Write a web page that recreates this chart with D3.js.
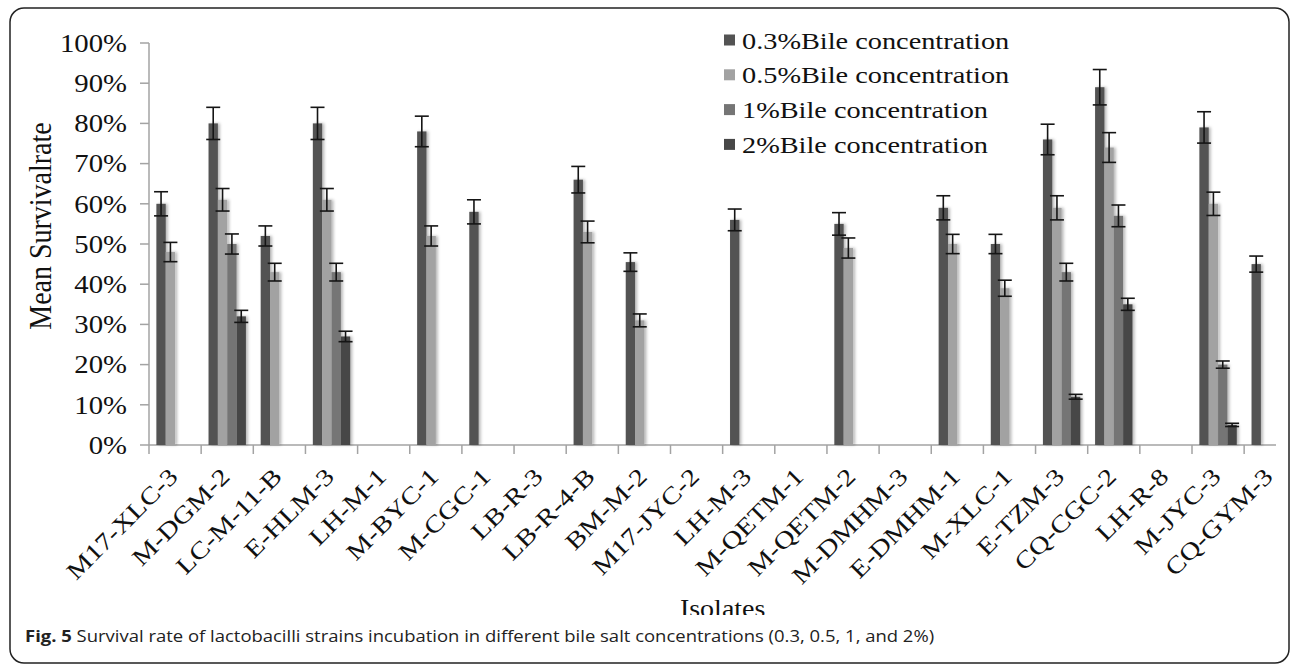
<!DOCTYPE html>
<html><head><meta charset="utf-8">
<script src="https://cdn.jsdelivr.net/npm/d3@7"></script>
<style>html,body{margin:0;padding:0;background:#fff;}svg{display:block;}</style>
</head><body>
<script>
// ---- data ----
const categories = ["M17-XLC-3","M-DGM-2","LC-M-11-B","E-HLM-3","LH-M-1","M-BYC-1","M-CGC-1","LB-R-3","LB-R-4-B","BM-M-2","M17-JYC-2","LH-M-3","M-QETM-1","M-QETM-2","M-DMHM-3","E-DMHM-1","M-XLC-1","E-TZM-3","CQ-CGC-2","LH-R-8","M-JYC-3","CQ-GYM-3"];
const seriesNames = ["0.3%Bile concentration","0.5%Bile concentration","1%Bile concentration","2%Bile concentration"];
const bile03 = [60,80,52,80,null,78,58,null,66,45.5,null,56,null,55,null,59,50,76,89,null,79,45];
const err03  = [3,4,2.5,4,null,3.8,3,null,3.3,2.3,null,2.7,null,2.8,null,3,2.4,3.8,4.4,null,3.9,2];
const bile05 = [48,61,43,61,null,52,null,null,53,31,null,null,null,49,null,50,39,59,74,null,60,null];
const err05  = [2.4,2.8,2.2,2.8,null,2.5,null,null,2.7,1.6,null,null,null,2.5,null,2.4,2,3,3.7,null,2.9,null];
const bile1  = [null,50,null,43,null,null,null,null,null,null,null,null,null,null,null,null,null,43,57,null,20,null];
const err1   = [null,2.5,null,2.2,null,null,null,null,null,null,null,null,null,null,null,null,null,2.2,2.7,null,0.9,null];
const bile2  = [null,32,null,27,null,null,null,null,null,null,null,null,null,null,null,null,null,12,35,null,5,null];
const err2   = [null,1.5,null,1.3,null,null,null,null,null,null,null,null,null,null,null,null,null,0.6,1.5,null,0.4,null];
const yTicks = [0,10,20,30,40,50,60,70,80,90,100];
const yTitle = "Mean Survivalrate";
const xTitle = "Isolates";
const captionBold = "Fig. 5";
const captionText = " Survival rate of lactobacilli strains incubation in different bile salt concentrations (0.3, 0.5, 1, and 2%)";

const values = [bile03, bile05, bile1, bile2];
const errors = [err03, err05, err1, err2];
const colors = ["#535353", "#a2a2a2", "#757575", "#474747"];

// ---- layout ----
const W = 1292, H = 664;
const serif = "'Liberation Serif','Times New Roman',serif";
const svg = d3.select("body").append("svg").attr("width", W).attr("height", H);
const defs = svg.append("defs");
const f = defs.append("filter").attr("id","sh").attr("x","-50%").attr("y","-10%").attr("width","200%").attr("height","120%");
f.append("feDropShadow").attr("dx",2).attr("dy",0).attr("stdDeviation",1.6).attr("flood-color","#000").attr("flood-opacity",0.28);
defs.append("clipPath").attr("id","axclip").append("rect").attr("x",0).attr("y",0).attr("width",1276).attr("height",H);
defs.append("clipPath").attr("id","tclip").append("rect").attr("x",0).attr("y",0).attr("width",W).attr("height",615);

// frame
svg.append("rect").attr("x",10).attr("y",8).attr("width",1279).attr("height",655).attr("rx",14)
  .attr("fill","none").attr("stroke","#222").attr("stroke-width",1.5);

const x0 = d3.scaleBand().domain(categories).range([149, 149 + 22*52.15]).padding(0);
const x1 = d3.scaleBand().domain(d3.range(4)).range([0, x0.bandwidth()]).paddingInner(0).paddingOuter(0.79);
const y = d3.scaleLinear().domain([0,100]).range([445, 43]);

// axes
const axisColor = "#a3a3a3";
const gy = svg.append("g");
gy.append("line").attr("x1",x0.range()[0]).attr("x2",x0.range()[0]).attr("y1",y(100)).attr("y2",y(0)+9)
  .attr("stroke",axisColor).attr("stroke-width",1.5);
gy.selectAll("line.t").data(yTicks).join("line").attr("class","t")
  .attr("x1",x0.range()[0]-9).attr("x2",x0.range()[0]).attr("y1",d=>y(d)).attr("y2",d=>y(d))
  .attr("stroke",axisColor).attr("stroke-width",1.5);
gy.selectAll("text").data(yTicks).join("text")
  .attr("transform",d=>`translate(127,${y(d)}) scale(1.15,1)`)
  .attr("text-anchor","end").attr("dy","0.35em")
  .attr("font-family",serif).attr("font-size",25).attr("fill","#111")
  .text(d=>d+"%");

const gx = svg.append("g").attr("clip-path","url(#axclip)");
gx.append("line").attr("x1",x0.range()[0]).attr("x2",x0.range()[1]).attr("y1",y(0)).attr("y2",y(0))
  .attr("stroke",axisColor).attr("stroke-width",1.5);
gx.selectAll("line.t").data(categories).join("line").attr("class","t")
  .attr("x1",d=>x0(d)+x0.bandwidth()).attr("x2",d=>x0(d)+x0.bandwidth()).attr("y1",y(0)).attr("y2",y(0)+9)
  .attr("stroke",axisColor).attr("stroke-width",1.5);

// bars
const barData = [];
categories.forEach((c,i)=>{ for(let s=0;s<4;s++){ if(values[s][i]!=null) barData.push({c, s, v: values[s][i], e: errors[s][i]}); } });
const gb = svg.append("g");
gb.selectAll("rect").data(barData).join("rect")
  .attr("x",d=>x0(d.c)+x1(d.s)).attr("width",x1.bandwidth())
  .attr("y",d=>y(d.v)).attr("height",d=>y(0)-y(d.v))
  .attr("fill",d=>colors[d.s]).attr("filter","url(#sh)");

// error bars
const ge = svg.append("g").attr("stroke","#151515").attr("stroke-width",1.6);
const cx = d=>x0(d.c)+x1(d.s)+x1.bandwidth()/2;
const capW = 7;
ge.selectAll("line.v").data(barData).join("line").attr("class","v")
  .attr("x1",cx).attr("x2",cx).attr("y1",d=>y(d.v+d.e)).attr("y2",d=>y(d.v-d.e));
ge.selectAll("line.hi").data(barData).join("line").attr("class","hi")
  .attr("x1",d=>cx(d)-capW).attr("x2",d=>cx(d)+capW).attr("y1",d=>y(d.v+d.e)).attr("y2",d=>y(d.v+d.e));
ge.selectAll("line.lo").data(barData).join("line").attr("class","lo")
  .attr("x1",d=>cx(d)-capW).attr("x2",d=>cx(d)+capW).attr("y1",d=>y(d.v-d.e)).attr("y2",d=>y(d.v-d.e));

// x labels
svg.append("g").selectAll("text").data(categories).join("text")
  .attr("transform",d=>`translate(${x0(d)+x0.bandwidth()/2+4},${y(0)+33}) rotate(-45) scale(1.2,1)`)
  .attr("text-anchor","end")
  .attr("font-family",serif).attr("font-size",24).attr("fill","#111")
  .text(d=>d);

// axis titles
svg.append("text").attr("transform",`translate(51,${226}) scale(1.15,1) rotate(-90)`)
  .attr("text-anchor","middle").attr("font-family",serif).attr("font-size",28).attr("fill","#111")
  .text(yTitle);
svg.append("g").attr("clip-path","url(#tclip)").append("text")
  .attr("transform",`translate(${(x0.range()[0]+x0.range()[1])/2},617) scale(1.12,1)`)
  .attr("text-anchor","middle").attr("font-family",serif).attr("font-size",25).attr("fill","#111")
  .text(xTitle);

// legend
const lg = svg.append("g");
seriesNames.forEach((n,i)=>{
  const by = 48.5 + i*34.8;
  lg.append("rect").attr("x",724).attr("y",by-14).attr("width",11).attr("height",11).attr("fill",colors[i]);
  lg.append("text").attr("transform",`translate(742,${by}) scale(1.18,1)`)
    .attr("font-family",serif).attr("font-size",24).attr("fill","#111").text(n);
});

// caption
const cap = svg.append("text").attr("font-family","'Open Sans','Noto Sans',sans-serif").attr("font-size",16).attr("fill","#222");
cap.append("tspan").attr("font-weight","bold").text(captionBold);
cap.append("tspan").text(captionText);
const cw = cap.node().getComputedTextLength();
cap.attr("transform",`translate(25,642) scale(${910/cw},1)`);
</script>
</body></html>
